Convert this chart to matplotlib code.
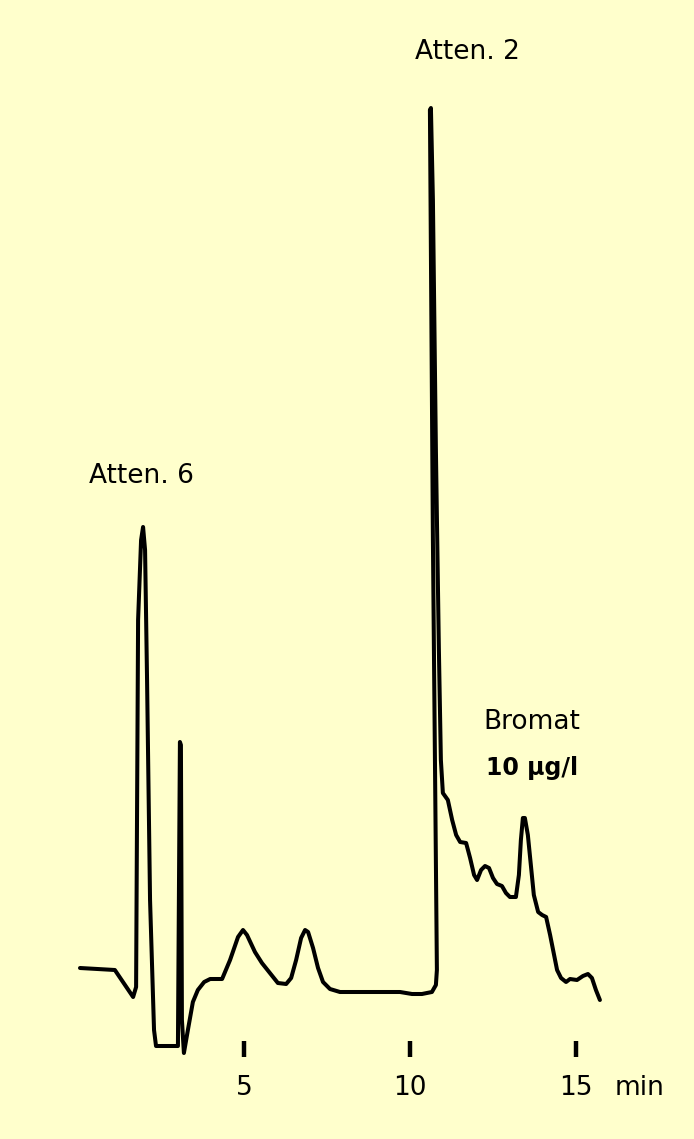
import matplotlib
matplotlib.use("Agg")
import matplotlib.pyplot as plt

# Chromatogram trace (time in min, detector signal in arbitrary units)
time_min = [0.06, 1.11, 1.66, 1.75, 1.81, 1.90, 1.96, 2.02, 2.08, 2.17, 2.29, 2.35,
            3.01, 3.07, 3.10, 3.13, 3.19, 3.31, 3.46, 3.61, 3.80, 3.98, 4.34, 4.58,
            4.82, 4.97, 5.09, 5.33, 5.54, 5.78, 6.02, 6.27, 6.42, 6.57, 6.72, 6.84,
            6.93, 7.08, 7.23, 7.38, 7.59, 7.89, 8.80, 9.70, 10.06, 10.36, 10.66, 10.78,
            10.81, 10.69, 10.60, 10.63, 10.69, 10.78, 10.87, 10.93, 10.99, 11.14, 11.27,
            11.39, 11.51, 11.69, 11.81, 11.93, 12.02, 12.14, 12.26, 12.38, 12.50, 12.62,
            12.77, 12.89, 13.01, 13.19, 13.28, 13.34, 13.40, 13.46, 13.55, 13.64, 13.73,
            13.86, 13.98, 14.10, 14.22, 14.34, 14.43, 14.55, 14.70, 14.82, 15.03, 15.21,
            15.36, 15.48, 15.60, 15.72]
signal = [24, 22, -5, 5, 372, 452, 465, 442, 312, 92, -38, -54,
          -54, 250, 247, -28, -61, -38, -10, 2, 10, 13, 13, 32,
          55, 62, 57, 40, 29, 19, 9, 8, 14, 32, 54, 62,
          60, 44, 24, 10, 3, 0, 0, 0, -2, -2, 0, 7,
          22, 452, 882, 884, 792, 542, 342, 232, 199, 192, 172,
          157, 150, 149, 134, 117, 112, 122, 126, 124, 114, 108,
          106, 99, 95, 95, 117, 152, 174, 174, 157, 127, 97,
          80, 77, 75, 57, 37, 22, 14, 10, 13, 12, 16,
          18, 14, 2, -8]

tick_positions = [5, 10, 15]
tick_labels = ["5", "10", "15"]

bg = "#FFFFCC"
fig = plt.figure(figsize=(6.94, 11.39), dpi=100, facecolor=bg)
ax = fig.add_axes([0, 0, 1, 1])
ax.set_facecolor(bg)
ax.plot(time_min, signal, color="black", lw=2.9, solid_joinstyle="round",
        solid_capstyle="round")
ax.set_xlim(-78 / 33.2, (694 - 78) / 33.2)
ax.set_ylim(-147, 992)
ax.axis("off")

fam = ["DejaVu Sans"]
fs = 19
for tp, tl in zip(tick_positions, tick_labels):
    ax.plot([tp, tp], [-49, -65], color="black", lw=3.2, solid_capstyle="butt")
    ax.text(tp, -96, tl, ha="center", va="center", fontsize=fs, family=fam)
ax.text(16.9, -96, "min", ha="center", va="center", fontsize=fs, family=fam)

ax.text(1.90, 516, "Atten. 6", ha="center", va="center", fontsize=fs, family=fam)
ax.text(11.72, 940, "Atten. 2", ha="center", va="center", fontsize=fs, family=fam)
ax.text(13.67, 270, "Bromat", ha="center", va="center", fontsize=fs, family=fam)
ax.text(13.67, 224, "10 µg/l", ha="center", va="center", fontsize=17,
        fontweight="bold", family=fam)

fig.savefig("out.png", dpi=100, facecolor=bg)
